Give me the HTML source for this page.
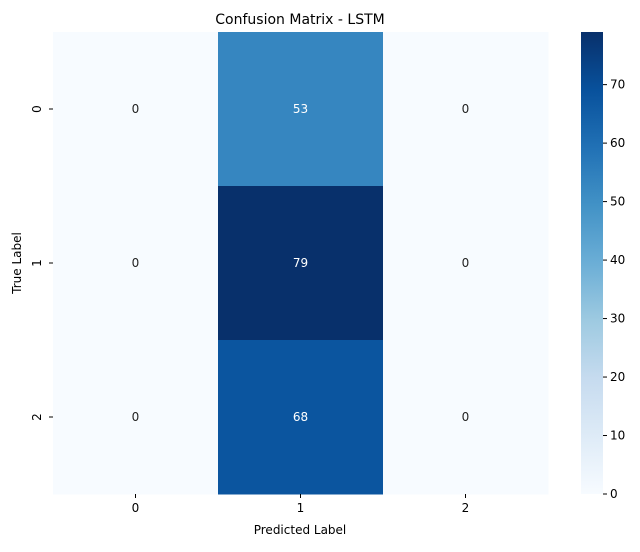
<!DOCTYPE html>
<html><head><meta charset="utf-8"><style>
body{margin:0;background:#fff;font-family:"Liberation Sans","DejaVu Sans",sans-serif;}
svg text{font-family:"DejaVu Sans","Liberation Sans",sans-serif;}
</style></head><body>
<svg id="chart" width="640" height="547">
<defs><linearGradient id="blues" x1="0" y1="1" x2="0" y2="0">
<stop offset="0" stop-color="#f7fbff"/><stop offset="0.125" stop-color="#deebf7"/>
<stop offset="0.25" stop-color="#c6dbef"/><stop offset="0.375" stop-color="#9ecae1"/>
<stop offset="0.5" stop-color="#6baed6"/><stop offset="0.625" stop-color="#4292c6"/>
<stop offset="0.75" stop-color="#2171b5"/><stop offset="0.875" stop-color="#08519c"/>
<stop offset="1" stop-color="#08306b"/></linearGradient></defs>
<text x="300" y="24" text-anchor="middle" font-size="14">Confusion Matrix - LSTM</text>
<text x="300" y="534" text-anchor="middle" font-size="12">Predicted Label</text>
<text transform="translate(21,263) rotate(-90)" text-anchor="middle" font-size="12">True Label</text>
<g id="cells"></g>
<rect x="581" y="32" width="22" height="462" fill="url(#blues)"/>
<g id="cbticks"></g>
</svg>
<script>
const labels=["0","1","2"];
const matrix=[[0,53,0],[0,79,0],[0,68,0]];
const cbTicks=[0,10,20,30,40,50,60,70];
const vmax=79;
const L=53,T=32,W=495,H=462,n=3,cw=W/n,ch=H/n;
const stops=[[247,251,255],[222,235,247],[198,219,239],[158,202,225],[107,174,214],[66,146,198],[33,113,181],[8,81,156],[8,48,107]];
function col(v){let t=Math.max(0,Math.min(1,v/vmax))*8;let i=Math.min(7,Math.floor(t)),f=t-i;
return 'rgb('+stops[i].map((c,k)=>Math.round(c+(stops[i+1][k]-c)*f)).join(',')+')';}
const NS="http://www.w3.org/2000/svg";
const g=document.getElementById('cells'),svg=document.getElementById('chart');
function mk(tag,a,p){const e=document.createElementNS(NS,tag);for(const k in a)e.setAttribute(k,a[k]);(p||svg).appendChild(e);return e;}
matrix.forEach((row,r)=>row.forEach((v,c)=>{
const rc=mk('rect',{x:L+c*cw,y:T+r*ch,width:cw+0.5,height:ch+0.5,fill:col(v)},g);


const t=mk('text',{x:L+c*cw+cw/2,y:T+r*ch+ch/2+4,'text-anchor':'middle','font-size':12,fill:v/vmax>0.5?'#fff':'#222'},g);
t.textContent=v;


}));
labels.forEach((lb,i)=>{
const x=L+i*cw+cw/2;
mk('line',{x1:x,x2:x,y1:T+H,y2:T+H+4,stroke:'#000'});
const t=mk('text',{x:x,y:T+H+18,'text-anchor':'middle','font-size':12});t.textContent=lb;


const y=T+i*ch+ch/2;
mk('line',{x1:L-4,x2:L,y1:y,y2:y,stroke:'#000'});
const t2=mk('text',{transform:'translate('+(L-12)+','+y+') rotate(-90)','text-anchor':'middle','font-size':12});t2.textContent=lb;


});
cbTicks.forEach(v=>{
const y=T+H-v/vmax*H;
mk('line',{x1:603,x2:607,y1:y,y2:y,stroke:'#000'});
const t=mk('text',{x:610,y:y+4,'font-size':12});t.textContent=v;


});
</script>
</body></html>
